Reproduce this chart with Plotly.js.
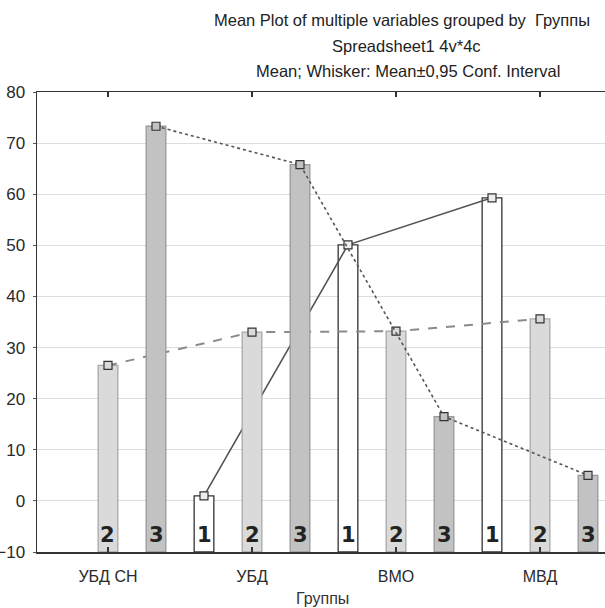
<!DOCTYPE html>
<html>
<head>
<meta charset="utf-8">
<script src="https://cdn.plot.ly/plotly-3.0.1.min.js"></script>
<style>
html,body{margin:0;padding:0;background:#fff;overflow:hidden;}
#chart{width:605px;height:608px;}
</style>
</head>
<body>
<div id="chart"></div>
<script>
// ---- data ----
const categories = ["УБД СН", "УБД", "ВМО", "МВД"];
const seriesNames = ["1", "2", "3"];
const series1 = [null, 1.0, 50.1, 59.3];
const series2 = [26.5, 33.0, 33.2, 35.6];
const series3 = [73.3, 65.8, 16.5, 5.0];
const yTickVals = [-10, 0, 10, 20, 30, 40, 50, 60, 70, 80];

// ---- styles ----
const allSeries = [series1, series2, series3];
const barFill = ["#ffffff", "#dadada", "#c2c2c2"];
const barLine = ["#333333", "#a8a8a8", "#999999"];
const lineStyle = [
  {color: "#555555", width: 1.6, dash: "solid"},
  {color: "#8a8a8a", width: 2, dash: "dash"},
  {color: "#555555", width: 1.6, dash: "dot"}
];
const yMin = -10, yMax = 80;
const nSer = seriesNames.length;

const traces = [];
allSeries.forEach((vals, s) => {
  const ax = s === 0 ? "" : String(s + 1);
  const xs = [], ys = [], bases = [], bx = [];
  vals.forEach((v, g) => {
    const slot = g * nSer + s;
    xs.push(slot);
    ys.push(v);
    if (v !== null) { bx.push(slot); bases.push(v - yMin); }
  });
  // bars rise from the bottom of the plot
  traces.push({
    type: "bar", x: bx, y: bases, base: yMin, width: 0.41,
    marker: {color: barFill[s], line: {color: barLine[s], width: 1.3}},
    xaxis: "x" + ax, yaxis: "y" + ax, hoverinfo: "skip", showlegend: false
  });
  traces.push({
    type: "scatter", mode: "lines+markers", x: xs, y: ys, connectgaps: false,
    line: lineStyle[s],
    marker: {symbol: "square", size: 8, color: barFill[s] === "#ffffff" ? "#eeeeee" : barFill[s],
             line: {color: "#333333", width: 1.2}},
    xaxis: "x" + ax, yaxis: "y" + ax, showlegend: false
  });
});

const xRange = [-0.479, 11.354];
const tickvals = categories.map((c, g) => g * nSer + 1);

const hiddenX = {range: xRange, visible: false, fixedrange: true};
const hiddenY = {range: [yMin, yMax], visible: false, fixedrange: true};

const annotations = [
  {text: "Mean Plot of multiple variables grouped by  Группы", xref: "paper", yref: "paper",
   x: (402 - 37) / 568, y: (552 - 20) / 460, xanchor: "center", yanchor: "middle",
   showarrow: false, font: {size: 16.5, color: "#222"}},
  {text: "Spreadsheet1 4v*4c", xref: "paper", yref: "paper",
   x: (406 - 37) / 568, y: (552 - 46) / 460, xanchor: "center", yanchor: "middle",
   showarrow: false, font: {size: 16.5, color: "#222"}},
  {text: "Mean; Whisker: Mean±0,95 Conf. Interval", xref: "paper", yref: "paper",
   x: (408 - 37) / 568, y: (552 - 71) / 460, xanchor: "center", yanchor: "middle",
   showarrow: false, font: {size: 16.5, color: "#222"}},
  {text: "Группы", xref: "paper", yref: "paper",
   x: (322 - 37) / 568, y: (552 - 598) / 460, xanchor: "center", yanchor: "middle",
   showarrow: false, font: {size: 16, color: "#333"}}
];
// series number labels at the foot of each bar
allSeries.forEach((vals, s) => {
  vals.forEach((v, g) => {
    if (v !== null) {
      annotations.push({
        text: "<b>" + seriesNames[s] + "</b>", x: g * nSer + s, y: yMin, xref: "x", yref: "y",
        xanchor: "center", yanchor: "bottom", yshift: 3, showarrow: false,
        font: {family: "DejaVu Sans", size: 21, color: "#222"}
      });
    }
  });
});

const layout = {
  width: 605, height: 608,
  margin: {l: 37, r: 0, t: 92, b: 56},
  paper_bgcolor: "#ffffff", plot_bgcolor: "#ffffff",
  font: {family: "Liberation Sans, Arial, sans-serif", color: "#333333"},
  bargap: 0,
  xaxis: {
    range: xRange, tickmode: "array", tickvals: tickvals, ticktext: categories,
    ticks: "inside", ticklen: 5, tickcolor: "#333", tickwidth: 1.2,
    showline: true, linecolor: "#333", linewidth: 1.5, mirror: "ticks",
    showgrid: false, zeroline: false,
    tickfont: {size: 16, color: "#2a2a2a"}, ticklabelstandoff: 9
  },
  yaxis: {
    range: [yMin, yMax], tickmode: "array", tickvals: yTickVals,
    ticks: "outside", ticklen: 3, tickcolor: "#555",
    showline: true, linecolor: "#333", linewidth: 1.5,
    showgrid: true, gridcolor: "#dedede", gridwidth: 1.2, zeroline: false,
    tickfont: {size: 17, color: "#2a2a2a"}, ticklabelstandoff: 4
  },
  xaxis2: Object.assign({overlaying: "x"}, hiddenX),
  yaxis2: Object.assign({overlaying: "y"}, hiddenY),
  xaxis3: Object.assign({overlaying: "x"}, hiddenX),
  yaxis3: Object.assign({overlaying: "y"}, hiddenY),
  annotations: annotations
};

Plotly.newPlot("chart", traces, layout, {displayModeBar: false, staticPlot: true});
</script>
</body>
</html>
